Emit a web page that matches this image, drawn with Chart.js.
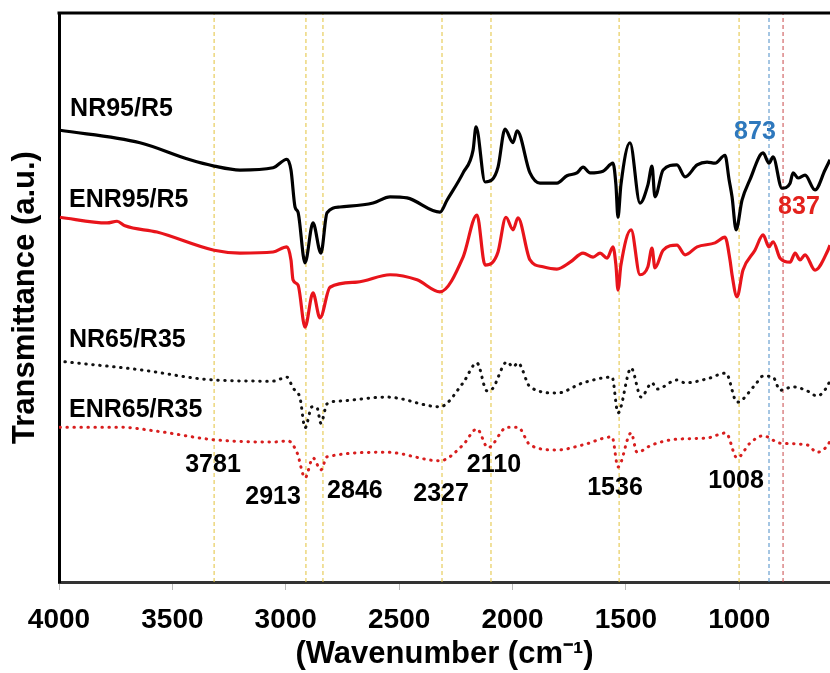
<!DOCTYPE html>
<html><head><meta charset="utf-8">
<script src="https://cdn.jsdelivr.net/npm/chart.js@4/dist/chart.umd.min.js"></script>
<style>html,body{margin:0;padding:0;background:#fff;overflow:hidden}#wrap{width:830px;height:673px}</style>
</head><body><div id="wrap"><canvas id="c" width="830" height="673"></canvas></div>
<script>
// ---- data (wavenumber cm-1, transmittance a.u.) ----
const xTicks = [4000, 3500, 3000, 2500, 2000, 1500, 1000];

const wnNR95 = [3996,3643,3422,3316,3202,3056,2995,2977,2959,2946,2915,2880,2845,2818,2761,2615,2540,2465,2320,2289,2218,2174,2161,2121,2090,2064,2033,1998,1980,1923,1879,1804,1760,1716,1689,1658,1601,1557,1544,1535,1522,1482,1438,1403,1385,1372,1336,1275,1239,1186,1142,1107,1063,1045,1032,1014,988,953,895,869,851,812,776,763,741,710,666,622,600];
const tNR95  = [79.4,77.2,74.2,73.1,72.4,72.8,74.3,72.4,65.9,65.0,56.1,63.1,57.8,64.9,65.9,66.6,67.7,67.5,65.0,67.1,71.9,75.9,80.0,70.3,70.7,72.9,79.6,77.2,79.3,71.9,70.1,70.1,71.4,71.9,72.9,71.9,72.2,73.6,69.8,64.1,69.8,77.2,66.6,69.8,73.1,67.7,72.4,73.3,71.2,73.3,73.8,73.6,75.0,70.7,67.7,61.9,67.1,70.7,75.4,73.6,74.7,69.2,70.1,71.9,71.0,71.5,68.9,72.4,74.2];

const wnENR95 = [3996,3788,3744,3709,3568,3316,3202,3056,2995,2977,2968,2946,2915,2880,2849,2805,2686,2540,2421,2320,2218,2157,2121,2090,2064,2029,1998,1976,1923,1866,1804,1746,1689,1645,1614,1583,1557,1544,1535,1522,1477,1438,1403,1385,1372,1336,1275,1239,1186,1107,1063,1041,1032,1010,984,931,895,869,851,820,776,754,732,710,666,609,600];
const tENR95  = [64.1,63.1,63.4,62.6,61.5,58.3,57.8,58.0,58.9,56.6,53.1,52.2,44.8,50.8,46.4,51.8,52.7,54.0,53.1,51.0,57.1,64.5,55.7,56.1,58.0,64.1,61.9,64.0,56.6,55.4,55.0,56.2,57.8,57.1,57.8,56.9,58.9,55.7,51.3,55.7,61.9,54.0,55.4,58.7,55.2,58.3,59.2,57.5,58.9,59.6,60.6,56.6,54.0,50.1,54.8,58.3,61.0,58.9,59.8,56.9,56.2,57.8,56.6,57.5,54.8,58.3,59.2];

const wnNR65 = [3974,3643,3316,3056,2995,2968,2937,2915,2884,2862,2845,2818,2761,2554,2320,2218,2157,2113,2090,2024,1998,1976,1923,1804,1689,1561,1535,1477,1433,1385,1363,1275,1239,1142,1059,1010,931,895,851,820,763,701,657,609,600];
const tNR65  = [38.7,37.3,35.5,35.3,36.0,34.1,32.3,27.1,30.8,30.6,27.9,31.3,31.8,32.5,30.8,35.0,38.5,33.6,33.9,38.7,37.8,38.5,34.3,33.2,35.0,36.0,29.7,37.6,32.5,35.0,33.9,35.5,35.0,35.7,36.7,31.6,34.6,36.2,36.0,33.7,34.3,33.6,32.7,34.6,35.5];

const wnENR65 = [3996,3731,3568,3316,3056,2990,2950,2915,2880,2845,2818,2554,2320,2218,2157,2108,2024,1976,1923,1804,1689,1561,1535,1477,1451,1385,1275,1142,1059,1010,953,895,820,701,657,609,600];
const tENR65  = [27.2,27.2,26.5,25.0,24.6,24.8,22.7,18.3,21.8,19.7,22.0,22.8,21.3,24.1,26.9,23.6,27.2,27.2,24.1,23.2,24.1,25.5,20.2,26.2,22.8,24.1,25.1,25.3,26.2,21.8,24.4,25.7,24.4,24.1,22.8,24.1,24.8];

// reference (guide) lines
const guideYellow = [3316, 2911, 2836, 2311, 2095, 1530, 1001];
const guideBlue = [869];
const guideRed = [807];

// text annotations
const seriesNames = ['NR95/R5', 'ENR95/R5', 'NR65/R35', 'ENR65/R35'];
const seriesNameWn = [3951, 3956, 3956, 3956];
const seriesNameT  = [83.1, 67.1, 42.5, 30.2];

const peakLabels = ['3781', '2913', '2846', '2327', '2110', '1536', '1008', '873', '837'];
const peakWn     = [3321, 3056, 2695, 2315, 2082, 1548, 1014, 931, 737];
const peakT      = [20.6, 15.0, 15.9, 15.4, 20.6, 16.5, 17.7, 79.1, 65.9];
const peakColors = ['#000','#000','#000','#000','#000','#000','#000','#2e78bd','#e3211c'];

// ---- build ----
const pts = (xs, ys) => xs.map((x, i) => ({x: x, y: ys[i]}));
const guide = (wn, color) => ({
  data: [{x: wn, y: 0}, {x: wn, y: 100}], borderColor: color, borderWidth: 1,
  borderDash: [4, 3], pointRadius: 0, order: 10, tension: 0
});
const FONT = '"Liberation Sans", Arial, sans-serif';

const datasets = [
  {label: 'NR95/R5', data: pts(wnNR95, tNR95), borderColor: '#000', borderWidth: 3.2, pointRadius: 0, order: 1, cubicInterpolationMode: 'monotone'},
  {label: 'ENR95/R5', data: pts(wnENR95, tENR95), borderColor: '#e8141b', borderWidth: 3.2, pointRadius: 0, order: 1, cubicInterpolationMode: 'monotone'},
  {label: 'NR65/R35', data: pts(wnNR65, tNR65), borderColor: '#111', borderWidth: 3, borderDash: [0.5, 6.5], borderCapStyle: 'round', pointRadius: 0, order: 1, cubicInterpolationMode: 'monotone'},
  {label: 'ENR65/R35', data: pts(wnENR65, tENR65), borderColor: '#d81e1e', borderWidth: 3, borderDash: [0.5, 6.5], borderCapStyle: 'round', pointRadius: 0, order: 1, cubicInterpolationMode: 'monotone'},
];
guideYellow.forEach(w => datasets.push(guide(w, '#e2c23a')));
guideBlue.forEach(w => datasets.push(guide(w, '#4a8cc6')));
guideRed.forEach(w => datasets.push(guide(w, '#c8474a')));

const textPlugin = {
  id: 'texts',
  afterDatasetsDraw(chart) {
    const ctx = chart.ctx, xs = chart.scales.x, ys = chart.scales.y;
    ctx.save();
    ctx.textBaseline = 'middle';
    ctx.font = 'bold 25px ' + FONT;
    ctx.fillStyle = '#000';
    ctx.textAlign = 'left';
    seriesNames.forEach((s, i) => ctx.fillText(s, xs.getPixelForValue(seriesNameWn[i]), ys.getPixelForValue(seriesNameT[i])));
    ctx.textAlign = 'center';
    peakLabels.forEach((s, i) => {
      ctx.fillStyle = peakColors[i];
      ctx.fillText(s, xs.getPixelForValue(peakWn[i]), ys.getPixelForValue(peakT[i]));
    });
    // top frame line
    const a = chart.chartArea;
    ctx.strokeStyle = '#000'; ctx.lineWidth = 3;
    ctx.beginPath(); ctx.moveTo(a.left - 1.5, a.top); ctx.lineTo(a.right, a.top); ctx.stroke();
    ctx.restore();
  }
};

new Chart(document.getElementById('c'), {
  type: 'line',
  data: {datasets},
  options: {
    responsive: false, devicePixelRatio: 1, animation: false,
    layout: {padding: {top: 13, left: 0, right: 0, bottom: 0}},
    elements: {line: {tension: 0}},
    plugins: {legend: {display: false}, tooltip: {enabled: false}},
    scales: {
      x: {
        type: 'linear', reverse: true, min: 600, max: 4000,
        afterBuildTicks: s => { s.ticks = xTicks.map(v => ({value: v})); },
        afterFit: s => { s.height = 91; },
        grid: {drawOnChartArea: false, drawTicks: true, tickLength: 8, color: '#bbb'},
        border: {display: true, color: '#333', width: 3},
        ticks: {color: '#000', padding: 13, maxRotation: 0, autoSkip: false,
                callback: v => String(v),
                font: {family: FONT, size: 28, weight: 'bold'}},
        title: {display: true, text: '(Wavenumber (cm⁻¹)', color: '#000', padding: {top: 0, bottom: 0},
                font: {family: FONT, size: 31, weight: 'bold'}}
      },
      y: {
        min: 0, max: 100,
        afterFit: s => { s.width = 59; },
        grid: {display: false, drawTicks: false},
        border: {display: true, color: '#000', width: 3},
        ticks: {display: false},
        title: {display: true, text: 'Transmittance (a.u.)', color: '#000', padding: {top: 7, bottom: 0},
                font: {family: FONT, size: 31, weight: 'bold'}}
      }
    }
  },
  plugins: [textPlugin]
});
</script></body></html>
